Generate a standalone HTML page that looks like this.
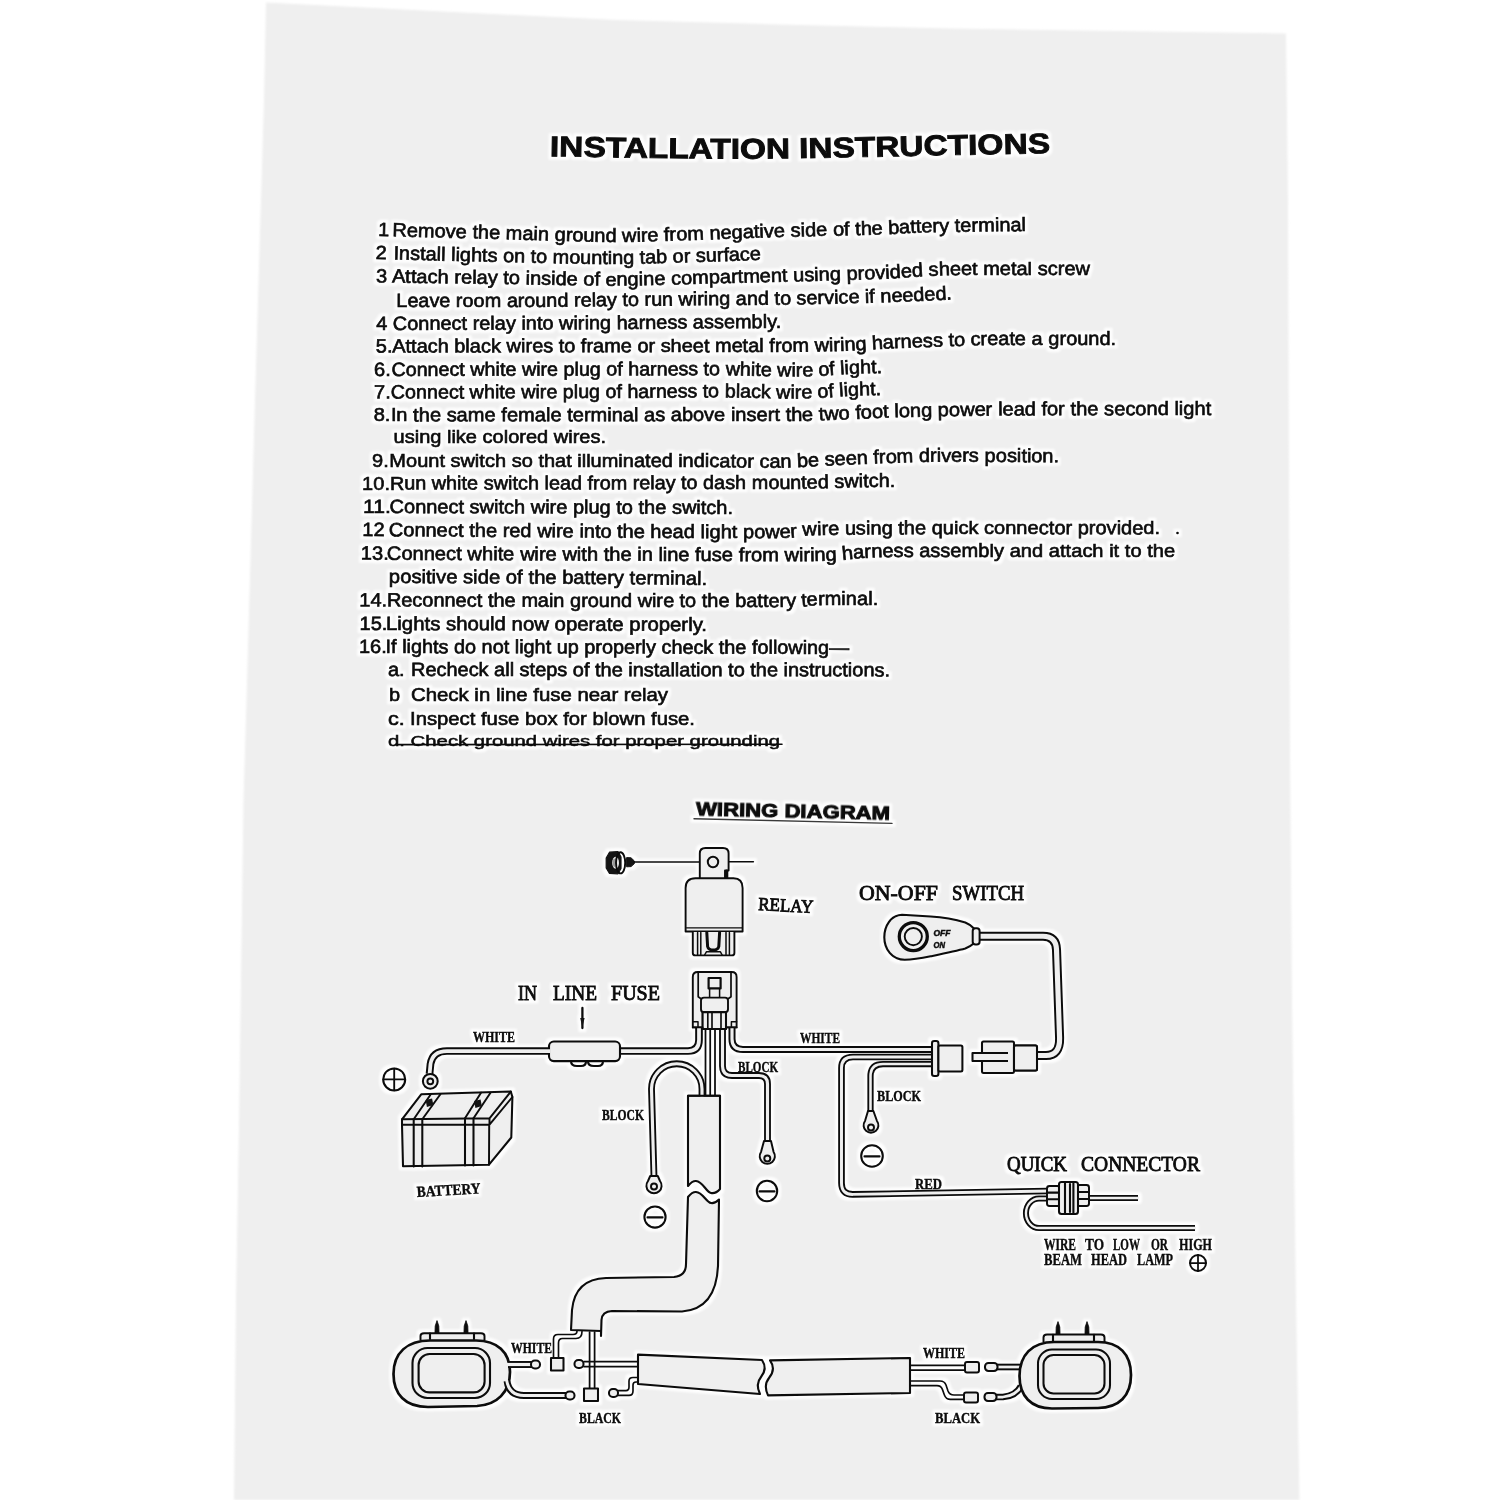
<!DOCTYPE html>
<html lang="en"><head><meta charset="utf-8"><title>Installation Instructions</title>
<style>html,body{margin:0;padding:0;background:#fff}svg{display:block}text{font-family:"Liberation Sans",sans-serif;fill:#0c0c0c}.sf{font-family:"Liberation Serif",serif}.ln{fill:none;stroke:#0c0c0c;stroke-linecap:round;stroke-linejoin:round}.wo{fill:none;stroke:#0c0c0c;stroke-linecap:butt;stroke-linejoin:round}.wi{fill:none;stroke:#efefef;stroke-linecap:butt;stroke-linejoin:round}.pf{fill:#efefef;stroke:#0c0c0c;stroke-linejoin:round}</style></head><body>
<svg width="1500" height="1500" viewBox="0 0 1500 1500">
<defs><filter id="bl" x="0" y="0" width="1500" height="1500" filterUnits="userSpaceOnUse" color-interpolation-filters="sRGB"><feMorphology in="SourceAlpha" operator="dilate" radius="2.6" result="d"/><feGaussianBlur in="d" stdDeviation="1.2" result="db"/><feFlood flood-color="#ffffff" flood-opacity="0.9"/><feComposite in2="db" operator="in" result="halo"/><feGaussianBlur in="SourceGraphic" stdDeviation="0.6" result="g"/><feMerge><feMergeNode in="halo"/><feMergeNode in="g"/></feMerge></filter><filter id="bp" x="-2%" y="-2%" width="104%" height="104%"><feGaussianBlur stdDeviation="0.9"/></filter></defs>
<rect width="1500" height="1500" fill="#fff"/>
<polygon filter="url(#bp)" fill="#efefef" points="266,2.5 433,11 617,20 800,25 950,28.5 1286,33.5 1288,200 1290,750 1292,1000 1296,1300 1299.5,1500 234,1500 236,1300 239,1125 243.5,800 246.5,700 255,400 264,100"/>
<g filter="url(#bl)" stroke-width="2.1">
<path id="tt" d="M550.0,156.2 C566.7,156.5 616.7,157.4 650.0,157.8 C683.3,158.2 716.7,158.7 750.0,158.6 C783.3,158.5 816.7,157.8 850.0,157.2 C883.3,156.6 916.7,155.7 950.0,155.0 C983.3,154.3 1033.3,153.5 1050.0,153.2" fill="none"/>
<text font-size="28.5" font-weight="bold" textLength="500" lengthAdjust="spacingAndGlyphs" stroke="#0c0c0c" stroke-width="0.9"><textPath href="#tt">INSTALLATION INSTRUCTIONS</textPath></text>
<path id="L0" d="M378.0,236.0 C398.3,236.5 461.3,238.0 500.0,239.0 C538.7,240.0 580.0,241.8 610.0,242.0 C640.0,242.2 656.7,241.2 680.0,240.5 C703.3,239.8 726.7,238.8 750.0,238.0 C773.3,237.2 798.3,236.6 820.0,236.0 C841.7,235.4 861.7,235.1 880.0,234.5 C898.3,233.9 905.7,233.0 930.0,232.4 C954.3,231.8 1010.0,231.2 1026.0,231.0" fill="none"/>
<text font-size="19.2" textLength="11.1" lengthAdjust="spacingAndGlyphs" stroke="#0c0c0c" stroke-width="0.65"><textPath href="#L0">1</textPath></text>
<text font-size="19.2" textLength="633.8" lengthAdjust="spacingAndGlyphs" stroke="#0c0c0c" stroke-width="0.65"><textPath href="#L0" startOffset="14.4">Remove the main ground wire from negative side of the battery terminal</textPath></text>
<path id="L1" d="M375.6,259.0 C396.3,259.5 460.9,261.2 500.0,262.0 C539.1,262.8 576.7,264.0 610.0,264.0 C643.3,264.0 674.8,262.7 700.0,262.0 C725.2,261.3 750.8,260.3 761.0,260.0" fill="none"/>
<text font-size="19.2" textLength="11.1" lengthAdjust="spacingAndGlyphs" stroke="#0c0c0c" stroke-width="0.65"><textPath href="#L1">2</textPath></text>
<text font-size="19.2" textLength="367.5" lengthAdjust="spacingAndGlyphs" stroke="#0c0c0c" stroke-width="0.65"><textPath href="#L1" startOffset="18.0">Install lights on to mounting tab or surface</textPath></text>
<path id="L2" d="M376.0,282.4 C396.7,282.7 459.3,283.5 500.0,284.0 C540.7,284.5 581.7,285.8 620.0,285.6 C658.3,285.4 701.7,283.7 730.0,283.0 C758.3,282.3 765.0,282.3 790.0,281.6 C815.0,280.9 855.0,280.0 880.0,279.0 C905.0,278.0 920.0,276.2 940.0,275.5 C960.0,274.8 975.0,275.1 1000.0,275.0 C1025.0,274.9 1075.0,275.0 1090.0,275.0" fill="none"/>
<text font-size="19.2" textLength="11.1" lengthAdjust="spacingAndGlyphs" stroke="#0c0c0c" stroke-width="0.65"><textPath href="#L2">3</textPath></text>
<text font-size="19.2" textLength="698.2" lengthAdjust="spacingAndGlyphs" stroke="#0c0c0c" stroke-width="0.65"><textPath href="#L2" startOffset="16.0">Attach relay to inside of engine compartment using provided sheet metal screw</textPath></text>
<path id="L3" d="M396.4,307.0 C417.0,307.0 481.1,307.2 520.0,307.0 C558.9,306.8 600.0,306.3 630.0,306.0 C660.0,305.7 671.7,305.6 700.0,305.3 C728.3,305.0 770.0,304.9 800.0,304.4 C830.0,303.9 860.0,303.1 880.0,302.5 C900.0,301.9 908.0,301.5 920.0,301.0 C932.0,300.5 946.7,299.8 952.0,299.5" fill="none"/>
<text font-size="19.2" textLength="555.7" lengthAdjust="spacingAndGlyphs" stroke="#0c0c0c" stroke-width="0.65"><textPath href="#L3">Leave room around relay to run wiring and to service if needed.</textPath></text>
<path id="L4" d="M376.4,330.0 C410.3,329.9 526.1,329.7 580.0,329.4 C633.9,329.1 666.5,328.6 700.0,328.4 C733.5,328.2 767.5,328.1 781.0,328.0" fill="none"/>
<text font-size="19.2" textLength="11.1" lengthAdjust="spacingAndGlyphs" stroke="#0c0c0c" stroke-width="0.65"><textPath href="#L4">4</textPath></text>
<text font-size="19.2" textLength="388.0" lengthAdjust="spacingAndGlyphs" stroke="#0c0c0c" stroke-width="0.65"><textPath href="#L4" startOffset="16.6">Connect relay into wiring harness assembly.</textPath></text>
<path id="L5" d="M376.0,352.6 C415.0,352.5 546.0,352.3 610.0,352.2 C674.0,352.1 721.7,352.2 760.0,352.0 C798.3,351.8 816.7,351.7 840.0,351.0 C863.3,350.3 880.0,348.8 900.0,348.0 C920.0,347.2 943.3,346.5 960.0,346.0 C976.7,345.5 974.0,345.2 1000.0,345.0 C1026.0,344.8 1096.7,345.0 1116.0,345.0" fill="none"/>
<text font-size="19.2" textLength="16.7" lengthAdjust="spacingAndGlyphs" stroke="#0c0c0c" stroke-width="0.65"><textPath href="#L5">5.</textPath></text>
<text font-size="19.2" textLength="723.7" lengthAdjust="spacingAndGlyphs" stroke="#0c0c0c" stroke-width="0.65"><textPath href="#L5" startOffset="16.4">Attach black wires to frame or sheet metal from wiring harness to create a ground.</textPath></text>
<path id="L6" d="M374.4,376.0 C415.3,375.9 562.4,375.7 620.0,375.6 C677.6,375.5 690.0,375.1 720.0,375.2 C750.0,375.3 778.3,376.7 800.0,376.5 C821.7,376.3 836.3,374.6 850.0,374.0 C863.7,373.4 876.7,373.2 882.0,373.0" fill="none"/>
<text font-size="19.2" textLength="16.7" lengthAdjust="spacingAndGlyphs" stroke="#0c0c0c" stroke-width="0.65"><textPath href="#L6">6.</textPath></text>
<text font-size="19.2" textLength="490.5" lengthAdjust="spacingAndGlyphs" stroke="#0c0c0c" stroke-width="0.65"><textPath href="#L6" startOffset="17.2">Connect white wire plug of harness to white wire of light.</textPath></text>
<path id="L7" d="M374.4,398.6 C415.3,398.5 562.4,398.2 620.0,398.0 C677.6,397.8 690.0,397.3 720.0,397.4 C750.0,397.5 778.3,398.8 800.0,398.6 C821.7,398.4 836.5,396.6 850.0,396.0 C863.5,395.4 875.8,395.2 881.0,395.0" fill="none"/>
<text font-size="19.2" textLength="16.7" lengthAdjust="spacingAndGlyphs" stroke="#0c0c0c" stroke-width="0.65"><textPath href="#L7">7.</textPath></text>
<text font-size="19.2" textLength="490.1" lengthAdjust="spacingAndGlyphs" stroke="#0c0c0c" stroke-width="0.65"><textPath href="#L7" startOffset="16.6">Connect white wire plug of harness to black wire of light.</textPath></text>
<path id="L8" d="M374.0,421.4 C415.0,421.4 562.3,421.3 620.0,421.2 C677.7,421.1 690.0,421.0 720.0,421.0 C750.0,421.0 778.3,421.3 800.0,421.0 C821.7,420.7 833.3,419.8 850.0,419.2 C866.7,418.6 875.0,417.8 900.0,417.2 C925.0,416.6 948.2,416.0 1000.0,415.6 C1051.8,415.2 1175.8,415.1 1211.0,415.0" fill="none"/>
<text font-size="19.2" textLength="16.7" lengthAdjust="spacingAndGlyphs" stroke="#0c0c0c" stroke-width="0.65"><textPath href="#L8">8.</textPath></text>
<text font-size="19.2" textLength="820.1" lengthAdjust="spacingAndGlyphs" stroke="#0c0c0c" stroke-width="0.65"><textPath href="#L8" startOffset="17.0">In the same female terminal as above insert the two foot long power lead for the second light</textPath></text>
<path id="L9" d="M393.6,443 L606,443" fill="none"/>
<text font-size="19.2" textLength="212.4" lengthAdjust="spacingAndGlyphs" stroke="#0c0c0c" stroke-width="0.65"><textPath href="#L9">using like colored wires.</textPath></text>
<path id="L10" d="M372.4,467.0 C413.7,467.0 565.4,467.0 620.0,467.0 C674.6,467.0 673.3,466.9 700.0,467.0 C726.7,467.1 756.7,468.1 780.0,467.8 C803.3,467.5 821.7,465.8 840.0,465.0 C858.3,464.2 873.3,463.5 890.0,463.0 C906.7,462.5 911.8,461.9 940.0,461.8 C968.2,461.7 1039.2,462.3 1059.0,462.4" fill="none"/>
<text font-size="19.2" textLength="16.7" lengthAdjust="spacingAndGlyphs" stroke="#0c0c0c" stroke-width="0.65"><textPath href="#L10">9.</textPath></text>
<text font-size="19.2" textLength="669.5" lengthAdjust="spacingAndGlyphs" stroke="#0c0c0c" stroke-width="0.65"><textPath href="#L10" startOffset="17.2">Mount switch so that illuminated indicator can be seen from drivers position.</textPath></text>
<path id="L11" d="M362.4,489.6 C405.3,489.6 563.7,489.5 620.0,489.4 C676.3,489.3 671.7,489.1 700.0,489.0 C728.3,488.9 763.3,489.3 790.0,489.0 C816.7,488.7 842.5,487.5 860.0,487.2 C877.5,486.9 889.2,487.0 895.0,487.0" fill="none"/>
<text font-size="19.2" textLength="27.8" lengthAdjust="spacingAndGlyphs" stroke="#0c0c0c" stroke-width="0.65"><textPath href="#L11">10.</textPath></text>
<text font-size="19.2" textLength="505.0" lengthAdjust="spacingAndGlyphs" stroke="#0c0c0c" stroke-width="0.65"><textPath href="#L11" startOffset="27.6">Run white switch lead from relay to dash mounted switch.</textPath></text>
<path id="L12" d="M363,513 L733,514" fill="none"/>
<text font-size="19.2" textLength="27.8" lengthAdjust="spacingAndGlyphs" stroke="#0c0c0c" stroke-width="0.65"><textPath href="#L12">11.</textPath></text>
<text font-size="19.2" textLength="343.4" lengthAdjust="spacingAndGlyphs" stroke="#0c0c0c" stroke-width="0.65"><textPath href="#L12" startOffset="26.6">Connect switch wire plug to the switch.</textPath></text>
<path id="L13" d="M362.4,536.0 C395.3,536.2 512.1,537.1 560.0,537.4 C607.9,537.7 613.3,537.9 650.0,538.0 C686.7,538.1 753.0,538.4 780.0,538.0 C807.0,537.6 792.0,536.0 812.0,535.4 C832.0,534.8 842.0,534.6 900.0,534.4 C958.0,534.2 1116.7,534.4 1160.0,534.4" fill="none"/>
<text font-size="19.2" textLength="22.2" lengthAdjust="spacingAndGlyphs" stroke="#0c0c0c" stroke-width="0.65"><textPath href="#L13">12</textPath></text>
<text font-size="19.2" textLength="771.1" lengthAdjust="spacingAndGlyphs" stroke="#0c0c0c" stroke-width="0.65"><textPath href="#L13" startOffset="26.6">Connect the red wire into the head light power wire using the quick connector provided.</textPath></text>
<path id="L14" d="M361.0,559.6 C394.2,559.8 503.5,560.4 560.0,560.6 C616.5,560.8 656.7,560.9 700.0,561.0 C743.3,561.1 791.3,561.6 820.0,561.0 C848.7,560.4 850.3,558.3 872.0,557.6 C893.7,556.9 899.5,557.1 950.0,557.0 C1000.5,556.9 1137.5,557.0 1175.0,557.0" fill="none"/>
<text font-size="19.2" textLength="27.8" lengthAdjust="spacingAndGlyphs" stroke="#0c0c0c" stroke-width="0.65"><textPath href="#L14">13.</textPath></text>
<text font-size="19.2" textLength="788.1" lengthAdjust="spacingAndGlyphs" stroke="#0c0c0c" stroke-width="0.65"><textPath href="#L14" startOffset="26.0">Connect white wire with the in line fuse from wiring harness assembly and attach it to the</textPath></text>
<path id="L15" d="M389.0,583.0 C424.2,583.2 547.0,583.7 600.0,584.0 C653.0,584.3 689.2,584.8 707.0,585.0" fill="none"/>
<text font-size="19.2" textLength="318.0" lengthAdjust="spacingAndGlyphs" stroke="#0c0c0c" stroke-width="0.65"><textPath href="#L15">positive side of the battery terminal.</textPath></text>
<path id="L16" d="M359.6,606.4 C399.7,606.5 543.3,606.9 600.0,607.0 C656.7,607.1 668.3,607.0 700.0,607.0 C731.7,607.0 769.7,607.3 790.0,607.0 C810.3,606.7 807.3,605.5 822.0,605.2 C836.7,604.9 868.7,605.0 878.0,605.0" fill="none"/>
<text font-size="19.2" textLength="27.8" lengthAdjust="spacingAndGlyphs" stroke="#0c0c0c" stroke-width="0.65"><textPath href="#L16">14.</textPath></text>
<text font-size="19.2" textLength="491.1" lengthAdjust="spacingAndGlyphs" stroke="#0c0c0c" stroke-width="0.65"><textPath href="#L16" startOffset="27.4">Reconnect the main ground wire to the battery terminal.</textPath></text>
<path id="L17" d="M359.6,630 L707,631" fill="none"/>
<text font-size="19.2" textLength="27.8" lengthAdjust="spacingAndGlyphs" stroke="#0c0c0c" stroke-width="0.65"><textPath href="#L17">15.</textPath></text>
<text font-size="19.2" textLength="321.0" lengthAdjust="spacingAndGlyphs" stroke="#0c0c0c" stroke-width="0.65"><textPath href="#L17" startOffset="26.4">Lights should now operate properly.</textPath></text>
<path id="L18" d="M359,653 L849,654" fill="none"/>
<text font-size="19.2" textLength="27.8" lengthAdjust="spacingAndGlyphs" stroke="#0c0c0c" stroke-width="0.65"><textPath href="#L18">16.</textPath></text>
<text font-size="19.2" textLength="463.4" lengthAdjust="spacingAndGlyphs" stroke="#0c0c0c" stroke-width="0.65"><textPath href="#L18" startOffset="26.6">If lights do not light up properly check the following—</textPath></text>
<path id="L19" d="M388,676 L890,676.4" fill="none"/>
<text font-size="19.2" textLength="16.7" lengthAdjust="spacingAndGlyphs" stroke="#0c0c0c" stroke-width="0.65"><textPath href="#L19">a.</textPath></text>
<text font-size="19.2" textLength="479.0" lengthAdjust="spacingAndGlyphs" stroke="#0c0c0c" stroke-width="0.65"><textPath href="#L19" startOffset="23.0">Recheck all steps of the installation to the instructions.</textPath></text>
<path id="L20" d="M389,701 L668,701" fill="none"/>
<text font-size="19.2" textLength="11.1" lengthAdjust="spacingAndGlyphs" stroke="#0c0c0c" stroke-width="0.65"><textPath href="#L20">b</textPath></text>
<text font-size="19.2" textLength="257.0" lengthAdjust="spacingAndGlyphs" stroke="#0c0c0c" stroke-width="0.65"><textPath href="#L20" startOffset="22.0">Check in line fuse near relay</textPath></text>
<path id="L21" d="M388,725 L695,725" fill="none"/>
<text font-size="19.2" textLength="16.7" lengthAdjust="spacingAndGlyphs" stroke="#0c0c0c" stroke-width="0.65"><textPath href="#L21">c.</textPath></text>
<text font-size="19.2" textLength="285.0" lengthAdjust="spacingAndGlyphs" stroke="#0c0c0c" stroke-width="0.65"><textPath href="#L21" startOffset="22.0">Inspect fuse box for blown fuse.</textPath></text>
<circle cx="1177.5" cy="533" r="1.3" fill="#0c0c0c"/>
<text transform="translate(388,746.4) scale(1,0.8)" font-size="19.2" textLength="392" lengthAdjust="spacingAndGlyphs" stroke="#0c0c0c" stroke-width="0.6">d. Check ground wires for proper grounding</text>
<path class="ln" d="M396,744.6 L782,744.2" stroke-width="1.6"/>
<!-- ================= WIRING DIAGRAM ================= -->
<g id="diagram">
<!-- title -->
<text font-size="19" font-weight="bold" textLength="194" lengthAdjust="spacingAndGlyphs" transform="translate(696,815.3) rotate(1.3)" stroke="#0c0c0c" stroke-width="1.0">WIRING DIAGRAM</text>
<path class="ln" d="M694,818.8 L892,823.4" stroke-width="1.4" style="stroke:#3a3a3a"/>

<!-- screw + line -->
<path d="M606.2,858 L609.5,852.2 L618,851.6 L621,857 L621,868.5 L618,873.8 L609.5,873.4 L606.2,868 Z" fill="#141414" stroke="#141414" stroke-width="1.2" stroke-linejoin="round"/>
<ellipse cx="615.6" cy="862.8" rx="3.4" ry="6" fill="#efefef"/>
<ellipse cx="614.2" cy="862.8" rx="1.3" ry="4.2" fill="#9a9a9a"/>
<ellipse class="ln" cx="620.6" cy="862.8" rx="4.6" ry="10.6" stroke-width="1.9" fill="none"/>
<path d="M626.6,857.6 L631,857.8 L634.4,861 L634.4,863.6 L631,866.6 L626.6,866.8 Z" fill="#141414" stroke="#141414" stroke-width="1" stroke-linejoin="round"/>
<path class="ln" d="M634,862 H700 M729,861.7 H753.4" stroke-width="1.5"/>

<!-- relay -->
<path class="pf" d="M699.8,878 V853.5 Q699.8,848 705.5,848 H723 Q728.6,848 728.6,853.5 V870.5 H725 V878" stroke-width="1.9"/>
<path class="ln" d="M726.8,871 V878" stroke-width="3"/>
<circle class="ln" cx="713" cy="862" r="5.2" stroke-width="2"/>
<path class="pf" d="M685.6,931.5 V888 Q685.6,878.3 695.5,878.3 H733.5 Q742.6,878.3 742.6,888 V931.5 Z" stroke-width="1.9"/>
<path class="ln" d="M686.5,927.8 H741.8" stroke-width="1.3"/>
<!-- relay pins -->
<path class="pf" d="M692.8,932 V953 Q692.8,955.4 695.2,955.4 H732 Q734.4,955.4 734.4,953 V932" stroke-width="1.9"/>
<path class="ln" d="M697.6,932.5 V954.5 M700.8,932.5 V954.5 M726,932.5 V954.5 M729.4,932.5 V954.5" stroke-width="1.5"/>
<path class="ln" d="M706.8,932.5 L707.6,946.5 Q708.4,950 713.2,950 Q718,950 718.8,946.5 L719.6,932.5" stroke-width="3"/>
<path class="ln" d="M704.6,955 L706.4,951.8 H720.4 L722.2,955" stroke-width="1.5"/>

<!-- socket -->
<path class="pf" d="M692.8,1027.4 V977 Q692.8,972 697.8,972 H731.6 Q736.6,972 736.6,977 V1027.4 Z" stroke-width="1.9"/>
<path class="ln" d="M698.2,973 V996.8 L701.4,999 M731,973 V996.8 L727.8,999" stroke-width="1.7"/>
<path class="ln" d="M692.8,1021.8 H698 V1027 M736.6,1021.8 H731.4 V1027" stroke-width="1.5"/>
<path class="ln" d="M708.6,978 H720.6 V988.4 H708.6 Z" stroke-width="2.2"/>
<path class="ln" d="M709.6,989 V997 M719.6,989 V997" stroke-width="1.5"/>
<rect class="pf" x="701" y="997.6" width="27" height="14.6" rx="3" stroke-width="1.9"/>
<path class="pf" d="M702.6,1012.2 H726 V1029 H702.6 Z" stroke-width="1.7"/>

<!-- centre vertical wires from socket to sheath -->
<path class="ln" d="M705.5,1030 V1096 M710.2,1030 V1096 M715,1030 V1096" stroke-width="1.75"/>

<!-- W1: socket -> fuse (left) -->
<path class="wo" stroke-width="7.65" d="M699,1028 V1040 Q699,1051 688,1051 H619"/>
<path class="wi" stroke-width="3.75" d="M699,1027 V1040 Q699,1051 688,1051 H619"/>
<!-- W3: socket -> right connector (WHITE) -->
<path class="wo" stroke-width="7.05" d="M732,1028 V1039 Q732,1049.5 743,1049.5 H933"/>
<path class="wi" stroke-width="3.15" d="M732,1027 V1039 Q732,1049.5 743,1049.5 H933"/>
<!-- W4: centre-right BLOCK wire -->
<path class="wo" stroke-width="6.85" d="M722.5,1028 V1066 Q722.5,1075.5 732,1075.5 H759 Q767.5,1075.5 767.5,1084 V1142"/>
<path class="wi" stroke-width="3.15" d="M722.5,1027 V1066 Q722.5,1075.5 732,1075.5 H759 Q767.5,1075.5 767.5,1084 V1143"/>
<!-- redraw socket bottom block over wire tops -->
<path class="pf" d="M702.6,1012.2 H726 V1029 H702.6 Z" stroke-width="2.05"/>
<path class="ln" d="M707.8,1013 V1029 M712,1013 V1029 M721,1013 V1029" stroke-width="1.65"/>
<path class="ln" d="M692.8,1027.4 H702.6 M726,1027.4 H736.6" stroke-width="1.90"/>

<!-- fuse -->
<rect class="pf" x="549" y="1041.5" width="71" height="19.6" rx="4.8"/>
<path class="ln" d="M571,1061 Q571,1066 577,1066 H581 Q586,1066 586,1061.5 M588,1061.5 Q588,1066 594,1066 H598 Q603,1066 603,1061" stroke-width="2.15"/>
<!-- W2: fuse -> battery ring -->
<path class="wo" stroke-width="7.65" d="M549.5,1051 H447 Q432.5,1051 430.5,1064 L429.5,1074"/>
<path class="wi" stroke-width="3.75" d="M550,1051 H447 Q432.5,1051 430.5,1064 L429.5,1075"/>
<!-- battery ring terminal -->
<circle class="pf" cx="430.3" cy="1081.3" r="7.4" stroke-width="2.05"/>
<circle class="ln" cx="430.3" cy="1081.3" r="2.9" stroke-width="1.95"/>
<!-- arrow under IN LINE FUSE -->
<path class="ln" d="M582.4,1008 V1028" stroke-width="2.3"/>
<path d="M580.2,1018 L584.6,1018 L582.4,1027.5 Z" fill="#141414"/>

<!-- plus symbol (battery) -->
<circle class="ln" cx="394.2" cy="1079.4" r="11" stroke-width="2.05"/>
<path class="ln" d="M383.5,1079.4 H405 M394.2,1068.6 V1090.2" stroke-width="1.85"/>

<!-- battery -->
<path class="pf" d="M402,1119.3 L421.2,1094.3 L510.8,1091.6 L512.4,1097 L511.3,1137.5 L489,1164.7 L403,1166.3 L402,1124.7 Z" stroke-width="2.05"/>
<path class="ln" d="M402,1119.3 L489.5,1118.3 L510.8,1091.6 M402,1124.7 L489.5,1124.7 L512.4,1097 M489.5,1118.3 V1124.7 M489.2,1124.7 L489,1164.7" stroke-width="1.95"/>
<path class="ln" d="M413.7,1119.3 L430.8,1094.3 M422.3,1119.3 L440.4,1094.3 M465,1118.3 L481,1092.7 M473.5,1118.3 L490.5,1092.7" stroke-width="1.95"/>
<path class="ln" d="M413.7,1119.3 V1166.5 M422.3,1119.3 V1166.5 M465,1118.5 V1165.5 M473.5,1118.5 V1165.5" stroke-width="2.05"/>
<path d="M426.5,1100.5 l5,-1 l1,5 l-5,1.5 Z M475,1101.5 l5,-1 l1,5 l-5,1.5 Z" fill="#141414" stroke="#141414" stroke-width="1.5"/>

<!-- sheath + conduit (vertical) -->
<path class="pf" d="M688,1186 V1095.8 H720 V1189 C717,1192.5 713.5,1193.5 711,1193 C706,1192 703,1181.5 696,1181 C692,1180.8 690,1183.5 688,1186 Z"/>
<!-- W5 : left loop -->
<path class="wo" stroke-width="6.85" d="M702,1095.8 V1089 A25.25,25.25 0 0 0 651.5,1089 L654,1177"/>
<path class="wi" stroke-width="3.15" d="M702,1096.4 V1089 A25.25,25.25 0 0 0 651.5,1089 L654,1178"/>
<path class="ln" d="M688,1095.8 H720"/>
<!-- lower conduit -->
<path class="pf" d="M688,1197 C690,1194.5 692,1191.8 696,1192 C703,1192.5 706,1202 711,1203 C713.5,1203.5 716,1202.5 719,1199.5 L718,1266 Q716,1309 682,1311.5 L612,1311 Q602,1311.5 601.5,1320 L601,1336 L601,1331 L571,1330 L572,1310 Q575,1279 606,1278 L674,1277 Q686,1276 686,1264 Z"/>

<!-- ring terminals + minus symbols (left, centre) -->
<path class="pf" d="M650.2,1176 L648,1181 A7.6,7.6 0 1 0 660,1181 L657.8,1176 Z" stroke-width="1.95"/>
<circle class="ln" cx="654" cy="1186.5" r="3" stroke-width="1.95"/>
<circle class="ln" cx="655" cy="1217" r="10.6" stroke-width="2.05"/>
<path class="ln" d="M647.5,1217.4 H662.5" stroke-width="2.15"/>

<path class="pf" d="M764,1141 L761,1152 A7.6,7.6 0 1 0 773.6,1152 L771,1141 Z" stroke-width="1.95"/>
<circle class="ln" cx="767.3" cy="1158.5" r="3" stroke-width="1.95"/>
<circle class="ln" cx="767" cy="1191" r="10.2" stroke-width="2.05"/>
<path class="ln" d="M759.5,1191.4 H774.5" stroke-width="2.15"/>

<!-- right side: W6 red wire (big loop) -->
<path class="wo" stroke-width="6.65" d="M933,1057 H853 Q841.5,1057 841.5,1068 V1183 Q841.5,1194.6 853,1194.4 L1048,1191"/>
<path class="wi" stroke-width="2.95" d="M934,1057 H853 Q841.5,1057 841.5,1068 V1183 Q841.5,1194.6 853,1194.4 L1049,1191"/>
<!-- W7 third wire (BLOCK right) -->
<path class="wo" stroke-width="6.25" d="M933,1064 H883 Q870.5,1064 870.5,1076 V1112"/>
<path class="wi" stroke-width="2.55" d="M934,1064 H883 Q870.5,1064 870.5,1076 V1113"/>
<path class="pf" d="M868,1111 L865,1121 A7.4,7.4 0 1 0 877,1121 L873.4,1111 Z" stroke-width="1.95"/>
<circle class="ln" cx="871" cy="1127.5" r="3" stroke-width="1.95"/>
<circle class="ln" cx="872" cy="1156" r="10.8" stroke-width="2.05"/>
<path class="ln" d="M864.5,1156.4 H879.5" stroke-width="2.15"/>

<!-- connectors (female left / male right) -->
<rect class="pf" x="932" y="1041" width="6.4" height="35" rx="2.2" stroke-width="2.05"/>
<rect class="pf" x="938.4" y="1045.5" width="24" height="26" rx="1.5" stroke-width="2.05"/>
<rect class="pf" x="982" y="1041.5" width="32" height="31.5" rx="1.5" stroke-width="2.05"/>
<rect class="pf" x="1014" y="1045.5" width="23" height="25" rx="1.5" stroke-width="2.05"/>
<path class="pf" d="M1008,1053 H972.5 V1061 H1008" stroke-width="2.05"/>

<!-- switch wire -->
<path class="wo" stroke-width="9.05" d="M978,936.2 H1043 Q1056,936.2 1056.5,949.5 L1059.6,1038 Q1060,1055.5 1046,1055.5 H1037"/>
<path class="wi" stroke-width="5.15" d="M977,936.2 H1043 Q1056,936.2 1056.5,949.5 L1059.6,1038 Q1060,1055.5 1046,1055.5 H1036"/>
<rect class="pf" x="1014" y="1045.5" width="23" height="25" rx="1.5" stroke-width="2.05"/>
<!-- switch body -->
<path class="pf" d="M974,928.6 C 971,925.5 968,923.5 965.3,922.5 C 953,918.8 942,917.2 930.7,916.5 L 902,914.7 C 891,915 884.3,926 884.3,937.3 C 884.3,949 892,959.8 904.7,959.8 C 914,959.5 922,958 930.7,956.3 C 944,953.5 956,951 965.3,948.5 C 968,947.5 971,946 974,943.3 Z" stroke-width="2.1"/>
<rect class="pf" x="972.7" y="928.2" width="6.9" height="16.4" rx="2.8" stroke-width="2"/>
<circle class="ln" cx="913.3" cy="936.6" r="14" stroke-width="3.3"/>
<circle class="ln" cx="913.3" cy="936.6" r="8.6" stroke-width="1.9"/>
<text x="933.5" y="935.6" font-size="9" font-weight="bold" font-style="italic" textLength="17" lengthAdjust="spacingAndGlyphs" stroke="#0c0c0c" stroke-width="0.5">OFF</text>
<text x="933.5" y="947.8" font-size="8.6" font-weight="bold" font-style="italic" textLength="11.5" lengthAdjust="spacingAndGlyphs" stroke="#0c0c0c" stroke-width="0.5">ON</text>

<!-- quick connector -->
<path class="wo" stroke-width="6.05" d="M1088,1198 H1138"/>
<path class="wi" stroke-width="2.35" d="M1088,1198 H1139"/>
<path class="wo" stroke-width="6.05" d="M1048,1198.5 H1039 A13,14.7 0 0 0 1039,1228 H1195"/>
<path class="wi" stroke-width="2.35" d="M1049,1198.5 H1039 A13,14.7 0 0 0 1039,1228 H1196"/>
<rect class="pf" x="1047" y="1186" width="13" height="20" rx="2.5" stroke-width="1.95"/>
<path class="ln" d="M1047,1192.6 H1059 M1047,1199.3 H1059"/>
<rect class="pf" x="1077" y="1185" width="12" height="21" rx="2.5" stroke-width="1.95"/>
<path class="ln" d="M1078,1192 H1089 M1078,1199 H1089"/>
<rect class="pf" x="1059" y="1182" width="19" height="32" rx="2.5" stroke-width="2.05"/>
<path class="ln" d="M1065,1182 V1214 M1070,1184 V1212 M1073.4,1182 V1214"/>
<!-- plus symbol (head lamp) -->
<circle class="ln" cx="1198" cy="1263" r="8" stroke-width="1.95"/>
<path class="ln" d="M1190,1263 H1206 M1198,1255 V1271" stroke-width="1.75"/>

<!-- horizontal conduit -->
<path class="pf" d="M638,1354.6 L762,1360 C766,1366 766,1371 761,1377 C757,1382 757,1388 760,1394 L638,1384 Z"/>
<path class="pf" d="M770,1360.4 L910,1358 L910,1393 L768,1395.4 C765,1389 765,1383 769,1378 C774,1372 774,1366 770,1360.4 Z"/>

<!-- wires under the vertical conduit (left) -->
<path class="ln" d="M589.6,1332 V1389 M594.6,1332 V1389" stroke-width="1.75"/>
<rect class="pf" x="584" y="1388.5" width="14" height="12.5" stroke-width="2.05"/>
<path class="ln" d="M582,1331.5 Q582,1338.5 576,1338.5 H562.5 Q558.5,1338.5 558.5,1343 V1358 M577,1331 Q577,1334.5 573,1334.5 H558 Q553.5,1334.5 553.5,1339 V1358" stroke-width="1.65"/>
<rect class="pf" x="551" y="1358" width="12.5" height="12.5" stroke-width="2.05"/>
<!-- bullets + wires to horizontal conduit -->
<path class="ln" d="M584,1361.6 H638 M584,1366.6 H638" stroke-width="1.75"/>
<rect class="pf" x="574.5" y="1360" width="9" height="8" rx="3.8" stroke-width="2.05"/>
<path class="ln" d="M617,1390.6 H626 Q629,1390.6 629,1387 V1381 Q629,1377.5 633,1377.5 H638 M617,1395.4 H629 Q633,1395.4 633,1391 V1385 Q633,1382 636,1382 H638" stroke-width="1.65"/>
<rect class="pf" x="609" y="1389" width="9" height="8" rx="3.8" stroke-width="2.05"/>

<!-- left lamp -->
<path d="M434.8,1338 L435.2,1326 L437,1320.6 L438.8,1326 L439.2,1338 Z M463.8,1338 L464.2,1326 L466,1320.6 L467.8,1326 L468.2,1338 Z" fill="#0c0c0c" stroke="#0c0c0c" stroke-width="0.8"/>
<path class="pf" d="M420.5,1340 V1336 Q420.5,1333.3 424,1333.3 H481 Q484.5,1333.3 484.5,1336 V1340" stroke-width="1.95"/>
<path class="ln" d="M430,1333.5 V1339 M474,1333.5 V1339"/>
<path class="pf" d="M430,1340.5 H476 C 497,1340.5 510,1352 510,1372 C 510,1392 497,1405 477,1406 L 428,1407 C 405,1407 393.5,1394 393.5,1374 C 393.5,1353 407,1340.5 430,1340.5 Z" stroke-width="2.7"/>
<rect class="ln" x="412.5" y="1348" width="77.5" height="50" rx="15" stroke-width="2.1"/>
<rect class="ln" x="418.6" y="1354" width="66" height="38.4" rx="11" stroke-width="2.1"/>
<path class="wo" stroke-width="7.05" d="M508,1364.5 H534"/>
<path class="wi" stroke-width="3.15" d="M507,1364.5 H534"/>
<rect class="pf" x="531" y="1360.5" width="9" height="8" rx="3.8" stroke-width="2.05"/>
<path class="wo" stroke-width="6.85" d="M507,1381 Q509,1395.5 524,1395.5 H568"/>
<path class="wi" stroke-width="2.95" d="M506.6,1380 Q509,1395.5 524,1395.5 H568"/>
<rect class="pf" x="565.5" y="1391.5" width="9" height="8" rx="3.8" stroke-width="2.05"/>

<!-- right end wires + right lamp -->
<path class="ln" d="M910,1365.4 H966 M910,1370 H966" stroke-width="1.75"/>
<rect class="pf" x="965" y="1362" width="14" height="10.5" rx="2" stroke-width="1.95"/>
<path class="ln" d="M910,1381 H940 Q944.5,1381 946,1385 L948,1391 Q949.5,1395 954,1395 H965 M910,1385.6 H937 Q941,1385.6 942.4,1389.4 L944.4,1395 Q946,1399.4 950.5,1399.4 H965" stroke-width="1.65"/>
<rect class="pf" x="964" y="1392.5" width="14" height="10" rx="2" stroke-width="1.95"/>
<path class="wo" stroke-width="6.65" d="M996,1367 H1022"/>
<path class="wi" stroke-width="2.75" d="M996,1367 H1023"/>
<rect class="pf" x="985" y="1363" width="12.5" height="8" rx="3.5" stroke-width="2.05"/>
<path class="wo" stroke-width="6.65" d="M995,1397 H1003 Q1016,1396 1021,1386"/>
<path class="wi" stroke-width="2.75" d="M995,1397 H1003 Q1016,1396 1022,1385"/>
<rect class="pf" x="984.5" y="1393" width="12" height="8" rx="3.5" stroke-width="2.05"/>

<path d="M1055.8,1340 L1056.2,1327 L1058,1321.6 L1059.8,1327 L1060.2,1340 Z M1084.8,1340 L1085.2,1327 L1087,1321.6 L1088.8,1327 L1089.2,1340 Z" fill="#0c0c0c" stroke="#0c0c0c" stroke-width="0.8"/>
<path class="pf" d="M1043.5,1342 V1337.5 Q1043.5,1334.5 1047,1334.5 H1101 Q1104.5,1334.5 1104.5,1337.5 V1342" stroke-width="1.95"/>
<path class="ln" d="M1053,1334.7 V1341 M1094,1334.7 V1341"/>
<path class="pf" d="M1054,1342 H1098 C 1119,1342 1131,1354 1131,1375 C 1131,1396 1119,1407.6 1098,1408 L 1052,1408.5 C 1031,1408.5 1019.5,1396 1019.5,1376 C 1019.5,1355 1032,1342 1054,1342 Z" stroke-width="2.7"/>
<rect class="ln" x="1038" y="1349.5" width="72" height="49.5" rx="14" stroke-width="2.05"/>
<rect class="ln" x="1043.5" y="1355" width="61" height="38.5" rx="10" stroke-width="2.05"/>

<!-- labels -->
<g class="sf" stroke="#0c0c0c">
<text class="sf" font-size="18.5" textLength="55" lengthAdjust="spacingAndGlyphs" transform="translate(758,910) rotate(3)" stroke-width="0.85">RELAY</text>
<g font-size="21" stroke-width="0.85">
<text class="sf" x="859" y="900" textLength="79" lengthAdjust="spacingAndGlyphs">ON-OFF</text>
<text class="sf" x="952" y="900" textLength="72" lengthAdjust="spacingAndGlyphs">SWITCH</text>
<text class="sf" x="518" y="1000" textLength="19" lengthAdjust="spacingAndGlyphs">IN</text>
<text class="sf" x="553" y="1000" textLength="44" lengthAdjust="spacingAndGlyphs">LINE</text>
<text class="sf" x="611" y="1000" textLength="49" lengthAdjust="spacingAndGlyphs">FUSE</text>
</g>
<g font-size="21" stroke-width="0.85">
<text class="sf" x="1007" y="1171" textLength="60" lengthAdjust="spacingAndGlyphs">QUICK</text>
<text class="sf" x="1081" y="1171" textLength="119" lengthAdjust="spacingAndGlyphs">CONNECTOR</text>
</g>
<g font-weight="bold" font-size="15.5" stroke-width="0.4">
<text class="sf" x="473" y="1042" textLength="42" lengthAdjust="spacingAndGlyphs">WHITE</text>
<text class="sf" x="800" y="1043" textLength="40" lengthAdjust="spacingAndGlyphs">WHITE</text>
<text class="sf" x="738" y="1072" textLength="40" lengthAdjust="spacingAndGlyphs">BLOCK</text>
<text class="sf" x="602" y="1119.5" textLength="42" lengthAdjust="spacingAndGlyphs">BLOCK</text>
<text class="sf" x="877" y="1101" textLength="44" lengthAdjust="spacingAndGlyphs">BLOCK</text>
<text class="sf" textLength="64" lengthAdjust="spacingAndGlyphs" transform="translate(417,1197) rotate(-3.3)">BATTERY</text>
<text class="sf" x="915" y="1189" textLength="27" lengthAdjust="spacingAndGlyphs">RED</text>
<g font-size="17">
<text class="sf" x="1044" y="1250" textLength="32" lengthAdjust="spacingAndGlyphs">WIRE</text>
<text class="sf" x="1085" y="1250" textLength="19" lengthAdjust="spacingAndGlyphs">TO</text>
<text class="sf" x="1113" y="1250" textLength="27" lengthAdjust="spacingAndGlyphs">LOW</text>
<text class="sf" x="1151" y="1250" textLength="17" lengthAdjust="spacingAndGlyphs">OR</text>
<text class="sf" x="1179" y="1250" textLength="33" lengthAdjust="spacingAndGlyphs">HIGH</text>
<text class="sf" x="1044" y="1265" textLength="38" lengthAdjust="spacingAndGlyphs">BEAM</text>
<text class="sf" x="1091" y="1265" textLength="36" lengthAdjust="spacingAndGlyphs">HEAD</text>
<text class="sf" x="1137" y="1265" textLength="36" lengthAdjust="spacingAndGlyphs">LAMP</text>
</g>
<text class="sf" x="511" y="1352.5" textLength="41" lengthAdjust="spacingAndGlyphs">WHITE</text>
<text class="sf" x="579" y="1423" textLength="42" lengthAdjust="spacingAndGlyphs">BLACK</text>
<text class="sf" x="923" y="1358" textLength="42" lengthAdjust="spacingAndGlyphs">WHITE</text>
<text class="sf" x="935" y="1423" textLength="45" lengthAdjust="spacingAndGlyphs">BLACK</text>
</g>
</g>
</g>

</g>
</svg></body></html>
